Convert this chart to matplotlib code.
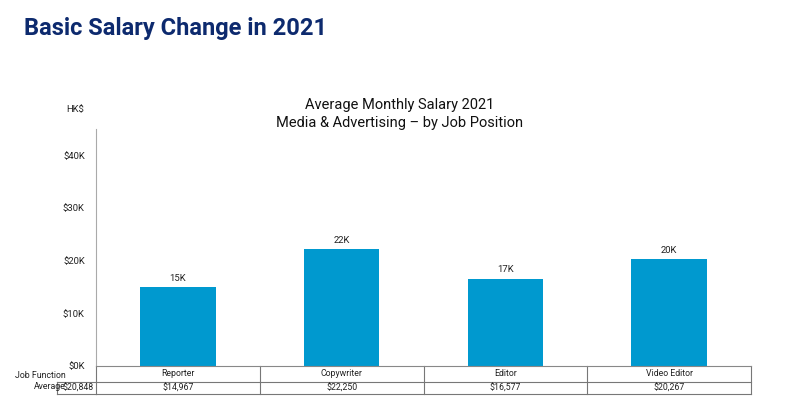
import matplotlib.pyplot as plt
from matplotlib.transforms import blended_transform_factory

plt.rcParams['font.family'] = ['Roboto', 'DejaVu Sans']

positions = ['Reporter', 'Copywriter', 'Editor', 'Video Editor']
salaries = [14967, 22250, 16577, 20267]
bar_labels = ['15K', '22K', '17K', '20K']
table_values = ['$14,967', '$22,250', '$16,577', '$20,267']
function_avg = '$20,848'
y_ticks = [0, 10000, 20000, 30000, 40000]
y_tick_labels = ['$0K', '$10K', '$20K', '$30K', '$40K']

fig = plt.figure(figsize=(7.93, 4.07), dpi=100)
fig.patch.set_facecolor('white')
ax = fig.add_axes([96 / 793, 1 - 366 / 407, (751 - 96) / 793, (366 - 129) / 407])

x = list(range(len(positions)))
ax.bar(x, salaries, width=0.46, color='#0099cf')
for xi, v, lab in zip(x, salaries, bar_labels):
    ax.text(xi, v + 800, lab, ha='center', va='bottom', fontsize=6.8, color='#222222')

ax.set_xlim(-0.5, 3.5)
ax.set_ylim(0, 45000)
ax.set_yticks(y_ticks)
ax.set_yticklabels(y_tick_labels, fontsize=6.8, color='#222222')
ax.set_xticks([])
ax.tick_params(axis='y', length=0, pad=8)
for s in ['top', 'right']:
    ax.spines[s].set_visible(False)
ax.spines['left'].set_color('#aaaaaa')
ax.spines['bottom'].set_color('#888888')

# table under the axes
tr = blended_transform_factory(ax.transData, ax.transAxes)
r1 = -16 / 237
r2 = -28 / 237
lc = '#777777'
ax.plot([-0.5, 3.5], [r1, r1], transform=tr, color=lc, lw=0.8, clip_on=False)
ax.plot([-0.5, 3.5], [r2, r2], transform=tr, color=lc, lw=0.8, clip_on=False)
for b in [-0.5, 0.5, 1.5, 2.5, 3.5]:
    ax.plot([b, b], [0, r2], transform=tr, color=lc, lw=0.8, clip_on=False)
for xi, name, val in zip(x, positions, table_values):
    ax.text(xi, r1 / 2, name, transform=tr, ha='center', va='center', fontsize=6.3, color='#222222')
    ax.text(xi, (r1 + r2) / 2, val, transform=tr, ha='center', va='center', fontsize=6.3, color='#222222')

# left cell with job function average
fig.lines.append(plt.Line2D([57 / 793, 96 / 793], [1 - 382 / 407] * 2, color=lc, lw=0.8, transform=fig.transFigure))
fig.lines.append(plt.Line2D([57 / 793, 96 / 793], [1 - 394 / 407] * 2, color=lc, lw=0.8, transform=fig.transFigure))
fig.lines.append(plt.Line2D([57 / 793, 57 / 793], [1 - 382 / 407, 1 - 394 / 407], color=lc, lw=0.8, transform=fig.transFigure))
fig.text(94 / 793, 1 - 388 / 407, function_avg, ha='right', va='center', fontsize=6.3, color='#222222')
fig.text(66 / 793, 1 - 381 / 407, 'Job Function\nAverage', ha='right', va='center', fontsize=6.3,
         color='#222222', linespacing=1.2, multialignment='right')

fig.text(75 / 793, 1 - 110 / 407, 'HK$', ha='center', va='center', fontsize=6.8, color='#222222')
fig.text(400 / 793, 1 - 114 / 407, 'Average Monthly Salary 2021\nMedia & Advertising \u2013 by Job Position',
         ha='center', va='center', fontsize=10.5, color='#111111', linespacing=1.3)
fig.text(24 / 793, 1 - 28 / 407, 'Basic Salary Change in 2021', ha='left', va='center',
         fontsize=17, fontweight='bold', color='#0d2a6e')

fig.savefig('out.png', dpi=100)
